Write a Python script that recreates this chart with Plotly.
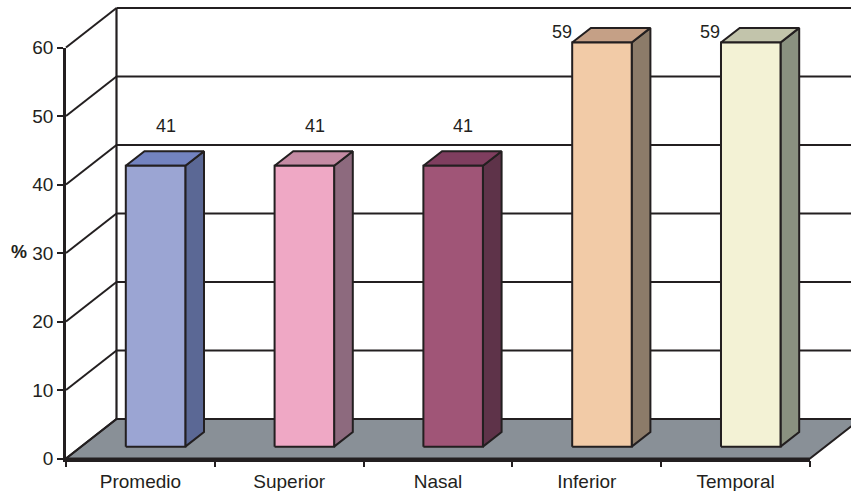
import plotly.graph_objects as go

# Data
categories = ["Promedio", "Superior", "Nasal", "Inferior", "Temporal"]
values = [41, 41, 41, 59, 59]
y_ticks = [0, 10, 20, 30, 40, 50, 60]

# Face colours per bar: front, top, side
front_colors = ["#9BA5D3", "#EFA8C5", "#A05577", "#F2CBA7", "#F3F2D5"]
top_colors = ["#7383C0", "#C58BA4", "#7F3E5F", "#C5A086", "#C2C4AB"]
side_colors = ["#5B6895", "#8D6A7E", "#5E3349", "#8C7B69", "#8A9180"]

W, H = 851, 491
INK = "#231F20"
FONT = "Liberation Sans, Arial, sans-serif"

# Pixel frame of the front plane (value axis 0..60, five category bands)
AX_LEFT, AX_RIGHT = 66.0, 810.0
AX_BOTTOM, AX_TOP = 458.5, 47.5
Y_MAX = 60.0
px_per_cat = (AX_RIGHT - AX_LEFT) / len(categories)
px_per_val = (AX_BOTTOM - AX_TOP) / Y_MAX

# Oblique depth of the 3-D box, in data units
DX = 50.5 / px_per_cat
DY = 39.5 / px_per_val

# Bars sit between these depth fractions, half-width in category units
D1, D2 = 0.30, 0.67
HALF = 0.20

# Data ranges of the full-figure drawing axes
x_lo = -0.5 - AX_LEFT / px_per_cat
x_hi = -0.5 + (W - AX_LEFT) / px_per_cat
y_lo = (AX_BOTTOM - H) / px_per_val
y_hi = AX_BOTTOM / px_per_val

fig = go.Figure()


def poly(xs, ys, fill, lw=2.0):
    fig.add_trace(go.Scatter(
        x=xs + [xs[0]], y=ys + [ys[0]], mode="lines", fill="toself",
        fillcolor=fill, line=dict(color=INK, width=lw),
        hoverinfo="skip", showlegend=False, xaxis="x", yaxis="y"))


def seg(xs, ys, lw=2.0):
    fig.add_trace(go.Scatter(
        x=xs, y=ys, mode="lines", line=dict(color=INK, width=lw),
        hoverinfo="skip", showlegend=False, xaxis="x", yaxis="y"))


n = len(categories)
left, right = -0.5, n - 0.5

# Floor
poly([left, right, right + DX, left + DX], [0, 0, DY, DY], "#899097", lw=2.0)

# Back wall gridlines and left wall diagonals
for t in y_ticks:
    seg([left + DX, right + DX + 1], [t + DY, t + DY])
    seg([left, left + DX], [t, t + DY])
seg([left + DX, left + DX], [DY, Y_MAX + DY], lw=2.2)

# Bars
for i, v in enumerate(values):
    fx0 = i - HALF + D1 * DX
    fx1 = i + HALF + D1 * DX
    bx0 = i - HALF + D2 * DX
    bx1 = i + HALF + D2 * DX
    fy0 = D1 * DY
    by0 = D2 * DY
    # side face
    poly([fx1, bx1, bx1, fx1], [fy0, by0, v + by0, v + fy0], side_colors[i])
    # top face
    poly([fx0, fx1, bx1, bx0], [v + fy0, v + fy0, v + by0, v + by0], top_colors[i])
    # front face
    poly([fx0, fx1, fx1, fx0], [fy0, fy0, v + fy0, v + fy0], front_colors[i])

# Value labels: above the bar, or to its upper left when close to the top
annotations = []
for i, v in enumerate(values):
    if v + 7.5 > Y_MAX + DY - 1:
        lx, ly = i - 0.17, v + 3.3
    else:
        lx, ly = i + 0.17, v + 7.5
    annotations.append(dict(
        x=lx, y=ly, xref="x", yref="y", text=str(v), showarrow=False,
        font=dict(family=FONT, size=18, color=INK),
        xanchor="center", yanchor="middle"))

annotations.append(dict(
    x=19 / W, y=(H - 252) / H, xref="paper", yref="paper", text="<b>%</b>",
    showarrow=False, font=dict(family=FONT, size=18, color=INK),
    xanchor="center", yanchor="middle"))

# Invisible anchor trace so the category/value axes render
fig.add_trace(go.Scatter(x=categories, y=values, mode="markers",
                         marker=dict(opacity=0), hoverinfo="skip",
                         showlegend=False, xaxis="x2", yaxis="y2"))

fig.update_layout(
    width=W, height=H, autosize=False,
    margin=dict(l=0, r=0, t=0, b=0, pad=0, autoexpand=False),
    showlegend=False,
    paper_bgcolor="white", plot_bgcolor="rgba(0,0,0,0)",
    font=dict(family=FONT, size=19, color=INK),
    xaxis=dict(range=[x_lo, x_hi], domain=[0, 1], visible=False,
               fixedrange=True, automargin=False),
    yaxis=dict(range=[y_lo, y_hi], domain=[0, 1], visible=False,
               fixedrange=True, automargin=False),
    xaxis2=dict(
        type="category", categoryorder="array", categoryarray=categories,
        range=[-0.5, n - 0.5], domain=[AX_LEFT / W, AX_RIGHT / W],
        anchor="y2", showline=True, linecolor=INK, linewidth=2.5,
        ticks="outside", ticklen=6, tickwidth=2, tickcolor=INK,
        tickson="boundaries", showgrid=False, zeroline=False,
        ticklabelstandoff=4, automargin=False,
        tickfont=dict(family=FONT, size=19, color=INK), fixedrange=True),
    yaxis2=dict(
        range=[0, Y_MAX], domain=[(H - AX_BOTTOM) / H, (H - AX_TOP) / H],
        anchor="x2", tickvals=y_ticks, showline=True, linecolor=INK,
        linewidth=2.5, ticks="outside", ticklen=6, tickwidth=2,
        tickcolor=INK, showgrid=False, zeroline=False, automargin=False,
        tickfont=dict(family=FONT, size=19, color=INK), fixedrange=True),
    annotations=annotations,
)

fig.write_html("out.html")
